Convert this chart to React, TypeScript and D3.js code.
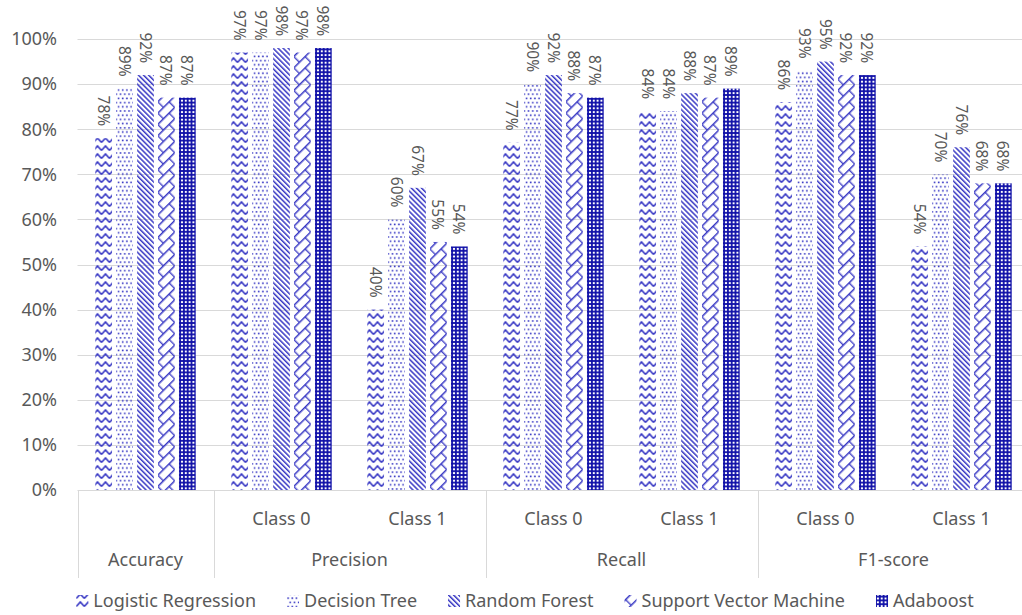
import React, { useEffect, useRef } from "react";
import * as d3 from "d3";

// Sub-category labels along the x axis (one per bar group)
const subLabels = ["", "Class 0", "Class 1", "Class 0", "Class 1", "Class 0", "Class 1"];
// Top-level metric labels and how many groups each one spans
const metricLabels = ["Accuracy", "Precision", "Recall", "F1-score"];
const metricSpans = [1, 2, 2, 2];

const models = [
  "Logistic Regression",
  "Decision Tree",
  "Random Forest",
  "Support Vector Machine",
  "Adaboost",
];

// Scores in percent, one entry per bar group
const logisticRegression = [78, 97, 40, 77, 84, 86, 54];
const decisionTree = [89, 97, 60, 90, 84, 93, 70];
const randomForest = [92, 98, 67, 92, 88, 95, 76];
const supportVectorMachine = [87, 97, 55, 88, 87, 92, 68];
const adaboost = [87, 98, 54, 87, 89, 92, 68];

const yTicks = [0, 10, 20, 30, 40, 50, 60, 70, 80, 90, 100];

const W = 1022;
const H = 615;
const FONT = "'Noto Sans', 'Open Sans', sans-serif";
const TEXT = "#595959";
const GRID = "#D9D9D9";
const BLUE = "#3838C4";
const NAVY = "#1010A8";

export default function App() {
  const ref = useRef<SVGSVGElement | null>(null);

  useEffect(() => {
    const svg = d3.select(ref.current);
    svg.selectAll("*").remove();

    const seriesValues = [
      logisticRegression,
      decisionTree,
      randomForest,
      supportVectorMachine,
      adaboost,
    ];

    const left = 77.5;
    const step = 136;
    const x0 = d3
      .scaleBand<number>()
      .domain(d3.range(subLabels.length))
      .range([left, left + step * subLabels.length])
      .paddingInner(0)
      .paddingOuter(0);
    const x1 = d3
      .scaleBand<string>()
      .domain(models)
      .range([0, x0.bandwidth()])
      .paddingInner(0.2)
      .paddingOuter(0.85);
    const y = d3.scaleLinear().domain([0, 100]).range([490, 39]);

    // ---- fill patterns -------------------------------------------------
    const defs = svg.append("defs");

    const zig = defs
      .append("pattern")
      .attr("id", "pat0")
      .attr("patternUnits", "userSpaceOnUse")
      .attr("width", 8)
      .attr("height", 8);
    zig
      .append("path")
      .attr("d", "M0,6.5 L4,2 L8,6.5")
      .attr("fill", "none")
      .attr("stroke", BLUE)
      .attr("stroke-width", 1.6);

    const dots = defs
      .append("pattern")
      .attr("id", "pat1")
      .attr("patternUnits", "userSpaceOnUse")
      .attr("width", 4.2)
      .attr("height", 8.4);
    dots.append("rect").attr("x", 0.3).attr("y", 1).attr("width", 1.6).attr("height", 1.6).attr("fill", BLUE);
    dots.append("rect").attr("x", 2.4).attr("y", 5.2).attr("width", 1.6).attr("height", 1.6).attr("fill", BLUE);

    const diag = defs
      .append("pattern")
      .attr("id", "pat2")
      .attr("patternUnits", "userSpaceOnUse")
      .attr("width", 3.6)
      .attr("height", 3.6)
      .attr("patternTransform", "rotate(-45)");
    diag.append("rect").attr("x", 0).attr("y", 0).attr("width", 1.5).attr("height", 3.6).attr("fill", BLUE);

    // diagonal brick ("shingle") made from a brick tile turned 45 degrees
    const shingle = defs
      .append("pattern")
      .attr("id", "pat3")
      .attr("patternUnits", "userSpaceOnUse")
      .attr("width", 16)
      .attr("height", 16)
      .attr("patternTransform", "rotate(-45)");
    shingle
      .append("path")
      .attr("d", "M0,0.75 H16 M0,8.75 H16 M0.75,0.75 V8.75 M8.75,8.75 V16.75")
      .attr("fill", "none")
      .attr("stroke", BLUE)
      .attr("stroke-width", 1.3);

    const checks = defs
      .append("pattern")
      .attr("id", "pat4")
      .attr("patternUnits", "userSpaceOnUse")
      .attr("width", 3.8)
      .attr("height", 3.8);
    checks.append("rect").attr("width", 3.8).attr("height", 3.8).attr("fill", NAVY);
    checks.append("rect").attr("x", 0.9).attr("y", 0.9).attr("width", 2).attr("height", 2).attr("fill", "#ffffff");

    // ---- gridlines & y labels -----------------------------------------
    const g = svg.append("g");
    g.selectAll("line.grid")
      .data(yTicks.filter((t) => t > 0))
      .join("line")
      .attr("class", "grid")
      .attr("x1", left)
      .attr("x2", W)
      .attr("y1", (d) => Math.round(y(d)) + 0.5)
      .attr("y2", (d) => Math.round(y(d)) + 0.5)
      .attr("stroke", GRID)
      .attr("stroke-width", 1);

    g.selectAll("text.ytick")
      .data(yTicks)
      .join("text")
      .attr("class", "ytick")
      .attr("x", 57)
      .attr("y", (d) => y(d))
      .attr("dy", "0.35em")
      .attr("text-anchor", "end")
      .attr("font-family", FONT)
      .attr("font-size", 18)
      .attr("fill", TEXT)
      .text((d) => `${d}%`);

    // ---- bars ---------------------------------------------------------
    const groups = g
      .selectAll("g.cat")
      .data(d3.range(subLabels.length))
      .join("g")
      .attr("class", "cat")
      .attr("transform", (i) => `translate(${x0(i)},0)`);

    models.forEach((m, k) => {
      groups
        .append("rect")
        .attr("x", x1(m)!)
        .attr("y", (i) => y(seriesValues[k][i]))
        .attr("width", x1.bandwidth())
        .attr("height", (i) => y(0) - y(seriesValues[k][i]))
        .attr("fill", `url(#pat${k})`);

      groups
        .append("text")
        .attr(
          "transform",
          (i) =>
            `translate(${x1(m)! + x1.bandwidth() / 2},${y(seriesValues[k][i]) - 12}) rotate(90)`
        )
        .attr("text-anchor", "end")
        .attr("dominant-baseline", "central")
        .attr("font-family", FONT)
        .attr("font-size", 15.5)
        .attr("fill", TEXT)
        .text((i) => `${seriesValues[k][i]}%`);
    });

    // ---- category axis ------------------------------------------------
    g.append("line")
      .attr("x1", left)
      .attr("x2", W)
      .attr("y1", 490.5)
      .attr("y2", 490.5)
      .attr("stroke", GRID);

    let start = 0;
    const dividers: number[] = [0];
    metricSpans.forEach((s) => {
      start += s;
      dividers.push(start);
    });
    g.selectAll("line.div")
      .data(dividers)
      .join("line")
      .attr("class", "div")
      .attr("x1", (i) => Math.round(left + step * i) + 0.5)
      .attr("x2", (i) => Math.round(left + step * i) + 0.5)
      .attr("y1", 490)
      .attr("y2", 578)
      .attr("stroke", GRID);

    g.selectAll("text.sub")
      .data(d3.range(subLabels.length))
      .join("text")
      .attr("class", "sub")
      .attr("x", (i) => x0(i)! + x0.bandwidth() / 2)
      .attr("y", 525)
      .attr("text-anchor", "middle")
      .attr("font-family", FONT)
      .attr("font-size", 18)
      .attr("fill", TEXT)
      .text((i) => subLabels[i]);

    g.selectAll("text.metric")
      .data(metricLabels)
      .join("text")
      .attr("class", "metric")
      .attr("x", (_d, j) => left + step * (dividers[j] + metricSpans[j] / 2))
      .attr("y", 566)
      .attr("text-anchor", "middle")
      .attr("font-family", FONT)
      .attr("font-size", 18)
      .attr("fill", TEXT)
      .text((d) => d);

    // ---- legend -------------------------------------------------------
    const legend = svg.append("g");
    const items = legend
      .selectAll("g.item")
      .data(models)
      .join("g")
      .attr("class", "item");
    items
      .append("rect")
      .attr("x", 0)
      .attr("y", 595)
      .attr("width", 12)
      .attr("height", 12)
      .attr("fill", (_d, k) => `url(#pat${k})`);
    items
      .append("text")
      .attr("x", 17)
      .attr("y", 601)
      .attr("dy", "0.35em")
      .attr("font-family", FONT)
      .attr("font-size", 18)
      .attr("fill", TEXT)
      .text((d) => d);

    const widths: number[] = [];
    items.each(function () {
      const t = d3.select(this).select("text").node() as SVGTextElement;
      widths.push(17 + t.getComputedTextLength());
    });
    const gap = 31;
    const total = d3.sum(widths) + gap * (widths.length - 1);
    let cx = 525 - total / 2;
    items.attr("transform", (_d, k) => {
      const tx = cx;
      cx += widths[k] + gap;
      return `translate(${tx},0)`;
    });
  }, []);

  return (
    <svg
      ref={ref}
      width={W}
      height={H}
      style={{ position: "absolute", left: 0, top: 0, display: "block", background: "#fff" }}
    />
  );
}
